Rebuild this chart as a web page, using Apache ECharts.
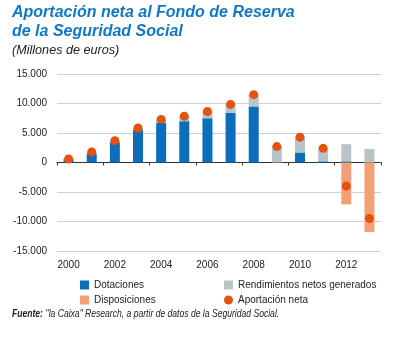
<!DOCTYPE html>
<html>
<head>
<meta charset="utf-8">
<script src="https://cdn.jsdelivr.net/npm/echarts@6/dist/echarts.min.js"></script>
<style>html,body{margin:0;padding:0;background:#fff}#c{width:404px;height:338px}</style>
</head>
<body>
<div id="c"></div>
<script>
const years = ['2000','2001','2002','2003','2004','2005','2006','2007','2008','2009','2010','2011','2012','2013'];
const dotaciones = [600, 1500, 3400, 5500, 6700, 7000, 7500, 8400, 9500, 0, 1700, 200, 200, 0];
const rendimientos = [0, 300, 300, 350, 600, 800, 1150, 1450, 2000, 2700, 2600, 2200, 2900, 2300];
const disposiciones = [0, 0, 0, 0, 0, 0, 0, 0, 0, 0, 0, 0, -7100, -11800];
const aportacionNeta = [600, 1800, 3700, 5850, 7300, 7850, 8650, 9850, 11500, 2700, 4300, 2400, -4000, -9500];
const yTicks = [-15000, -10000, -5000, 0, 5000, 10000, 15000];

const FONT = "'Liberation Sans', Arial, sans-serif";
const chart = echarts.init(document.getElementById('c'), null, {renderer: 'canvas'});
const fmt = v => {
  const s = Math.abs(v).toString().replace(/\B(?=(\d{3})+(?!\d))/g, '.');
  return (v < 0 ? '-' : '') + s;
};
chart.setOption({
  animation: false,
  textStyle: {fontFamily: FONT},
  graphic: [
    {type: 'text', x: 12, y: 5, scaleX: 1.0, style: {text: 'Aportación neta al Fondo de Reserva', font: "italic bold 16px " + FONT, fill: '#1277c4'}},
    {type: 'text', x: 12, y: 24, scaleX: 1.0, style: {text: 'de la Seguridad Social', font: "italic bold 16px " + FONT, fill: '#1277c4'}},
    {type: 'text', x: 12, y: 44, scaleX: 0.97, style: {text: '(Millones de euros)', font: "italic 13px " + FONT, fill: '#222'}},
    {type: 'text', x: 12, y: 308, scaleX: 0.78, style: {rich: {b: {font: "italic bold 11px " + FONT, fill: '#222'}, n: {font: "italic 11px " + FONT, fill: '#222'}}, text: '{b|Fuente:} {n|"la Caixa" Research, a partir de datos de la Seguridad Social.}'}}
  ],
  grid: {left: 57, right: 23, top: 74, bottom: 87, containLabel: false},
  legend: [
    {left: 80, top: 280, orient: 'vertical', padding: 0, itemWidth: 9, itemHeight: 9, itemGap: 5,
     textStyle: {fontSize: 10, color: '#222', fontFamily: FONT},
     data: [{name: 'Dotaciones', icon: 'rect'}, {name: 'Disposiciones', icon: 'rect'}]},
    {left: 224, top: 280, orient: 'vertical', padding: 0, itemWidth: 9, itemHeight: 9, itemGap: 5,
     textStyle: {fontSize: 10, color: '#222', fontFamily: FONT},
     data: [{name: 'Rendimientos netos generados', icon: 'rect'}, {name: 'Aportación neta', icon: 'circle'}]}
  ],
  xAxis: [
    {type: 'category', data: years, position: 'bottom',
     axisLine: {show: false, onZero: false}, axisTick: {show: false},
     axisLabel: {interval: 1, fontSize: 10, color: '#222', margin: 9}},
    {type: 'category', data: years, position: 'bottom',
     axisLine: {show: true, onZero: true, lineStyle: {color: '#333', width: 1}},
     axisTick: {show: true, length: 3, lineStyle: {color: '#333'}},
     axisLabel: {show: false}}
  ],
  yAxis: {type: 'value', min: yTicks[0], max: yTicks[yTicks.length - 1], interval: 5000,
    axisLine: {show: false}, axisTick: {show: false},
    splitLine: {lineStyle: {color: '#cfcfcf', width: 1}},
    axisLabel: {fontSize: 10, color: '#222', margin: 10, formatter: fmt}},
  series: [
    {name: 'Dotaciones', type: 'bar', stack: 't', data: dotaciones, barWidth: 10, itemStyle: {color: '#0b6dbb'}},
    {name: 'Rendimientos netos generados', type: 'bar', stack: 't', data: rendimientos, itemStyle: {color: '#b9c4c8'}},
    {name: 'Disposiciones', type: 'bar', stack: 't', data: disposiciones, itemStyle: {color: '#f4a077'}},
    {name: 'Aportación neta', type: 'scatter', data: aportacionNeta, symbolSize: 9, itemStyle: {color: '#e3530f', opacity: 1}, z: 5}
  ]
});
</script>
</body>
</html>
